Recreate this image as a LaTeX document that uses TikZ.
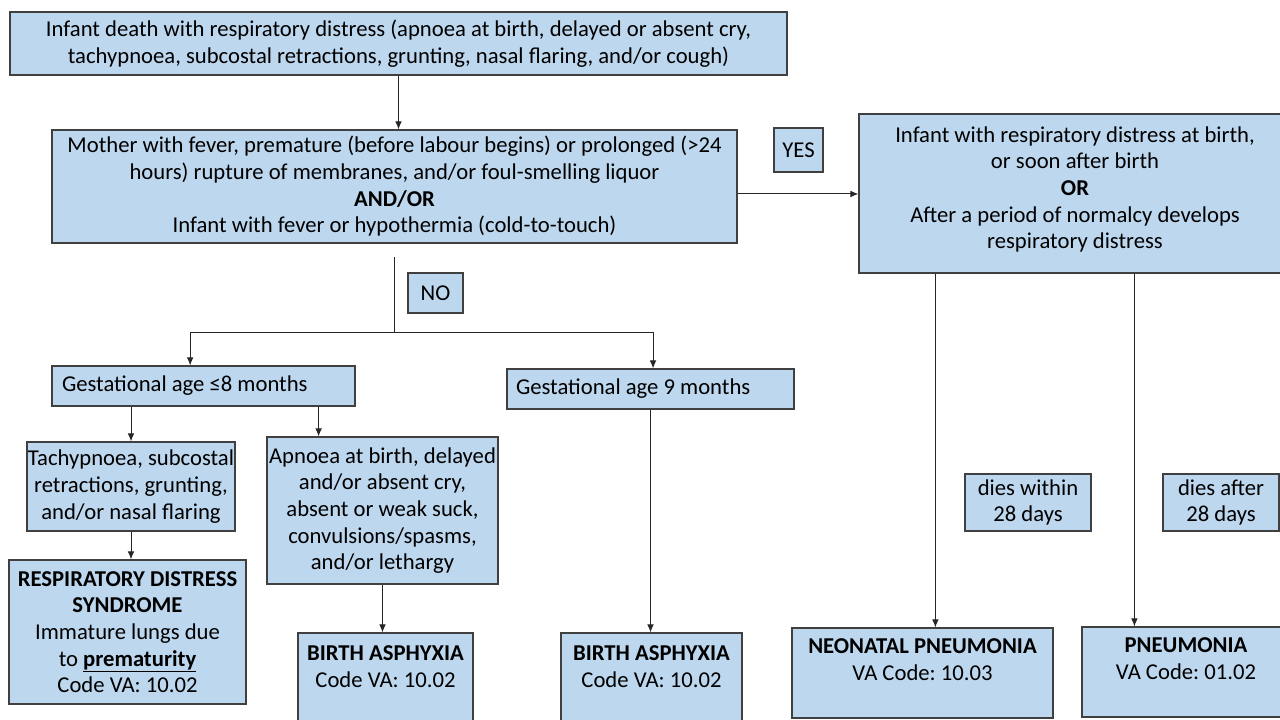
\documentclass[tikz,border=0pt]{standalone}
\usepackage{fontspec}
\setmainfont{Carlito}
\usepackage{tikz}
\usetikzlibrary{arrows.meta}
\definecolor{boxblue}{RGB}{189,215,238}
\definecolor{edgegrey}{RGB}{64,64,64}
\frenchspacing
\tikzset{every picture/.style={line width=0.75pt}}
\tikzset{
  vabox/.style={draw=edgegrey, fill=boxblue, line width=0.9pt, align=center, inner sep=0pt,
    font=\fontsize{17}{20}\selectfont},
  sz/.style 2 args={minimum width=#1*0.75pt, minimum height=#2*0.75pt},
  vaarrow/.style={draw=black!85, -{Latex[length=6pt,width=5pt]}},
  valine/.style={draw=black!85}
}

\begin{document}
\begin{tikzpicture}[x=0.75pt,y=0.75pt,yscale=-1,xscale=1]
\useasboundingbox (0,0) rectangle (1280,720);
\clip (0,0) rectangle (1280,720);

% Top: starting point
\node[vabox, sz={777}{63}] (death) at (398.5,43.5) {Infant death with respiratory distress (apnoea at birth, delayed or absent cry,\\tachypnoea, subcostal retractions, grunting, nasal flaring, and/or cough)};
% Risk factors
\node[vabox, sz={685}{113}] (risk) at (394.5,186.5) {Mother with fever, premature (before labour begins) or prolonged (>24\\hours) rupture of membranes, and/or foul-smelling liquor\\\textbf{AND/OR}\\Infant with fever or hypothermia (cold-to-touch)};
\node[vabox, sz={49}{44}] (yes) at (798.5,150) {YES};
\node[vabox, sz={55}{40}] (no) at (435.5,293) {NO};

% Right branch
\node[vabox, sz={432}{159}] (infdist) at (1075,193.5) {Infant with respiratory distress at birth,\\or soon after birth\\\textbf{OR}\\After a period of normalcy develops\\respiratory distress\\[-11pt]\mbox{}};
\node[vabox, sz={126}{57}] (within) at (1028,502.5) {dies within\\28 days};
\node[vabox, sz={116}{57}] (after) at (1221,502.5) {dies after\\28 days};
\node[vabox, sz={261}{90}] (neopneu) at (922.5,673) {\textbf{NEONATAL PNEUMONIA}\\VA Code: 10.03\\\mbox{}};
\node[vabox, sz={208}{90}] (pneu) at (1186,672) {\textbf{PNEUMONIA}\\VA Code: 01.02\\\mbox{}};

% Gestational age
\node[vabox, sz={303}{40}, align=flush left, text width=212.25pt, inner xsep=7.5pt] (gaeight) at (203.5,386) {Gestational age ≤8 months};
\node[vabox, sz={287}{40}, align=flush left, text width=201.75pt, inner xsep=6.75pt] (ganine) at (650.5,389) {Gestational age 9 months};

% Left branch
\node[vabox, sz={208}{89}] (tachy) at (131,486.5) {Tachypnoea, subcostal\\retractions, grunting,\\and/or nasal flaring};
\node[vabox, sz={231}{147}] (apnoea) at (382.5,510.5) {Apnoea at birth, delayed\\and/or absent cry,\\absent or weak suck,\\convulsions/spasms,\\and/or lethargy};
\node[vabox, sz={237}{144}] (rds) at (127.5,632) {\textbf{RESPIRATORY DISTRESS}\\\textbf{SYNDROME}\\Immature lungs due\\to \underline{\textbf{prematurity}}\\Code VA: 10.02};
\node[vabox, sz={175}{94}] (asphyxa) at (385.5,680) {\textbf{BIRTH ASPHYXIA}\\Code VA: 10.02\\\mbox{}};
\node[vabox, sz={181}{94}] (asphyxb) at (651.5,680) {\textbf{BIRTH ASPHYXIA}\\Code VA: 10.02\\\mbox{}};

% Connectors
\coordinate (notop) at (394,257);
\coordinate (nosplit) at (394,332);
\coordinate (apnoeain) at ([xshift=-27.75pt]gaeight.south east);
\coordinate (neoout) at ([xshift=57.75pt]infdist.south west);
\coordinate (pneuout) at ([xshift=207pt]infdist.south west);

\draw[vaarrow] (death.south) -- (death.south |- risk.north);
\draw[vaarrow] ([yshift=5.6pt]risk.east) -- ([yshift=5.6pt]risk.east -| infdist.west);
\draw[valine] (notop) -- (nosplit);
\draw[vaarrow] (nosplit) -| ([xshift=-10pt]gaeight.north);
\draw[vaarrow] (nosplit) -| ([xshift=1.9pt]ganine.north);
\draw[vaarrow] (tachy.north |- gaeight.south) -- (tachy.north);
\draw[vaarrow] (apnoeain) -- (apnoeain |- apnoea.north);
\draw[vaarrow] (tachy.south) -- (tachy.south |- rds.north);
\draw[vaarrow] (apnoea.south) -- (apnoea.south |- asphyxa.north);
\draw[vaarrow] (ganine.south) -- (ganine.south |- asphyxb.north);
\draw[vaarrow] (neoout) -- (neoout |- neopneu.north);
\draw[vaarrow] (pneuout) -- (pneuout |- pneu.north);

\end{tikzpicture}
\end{document}
